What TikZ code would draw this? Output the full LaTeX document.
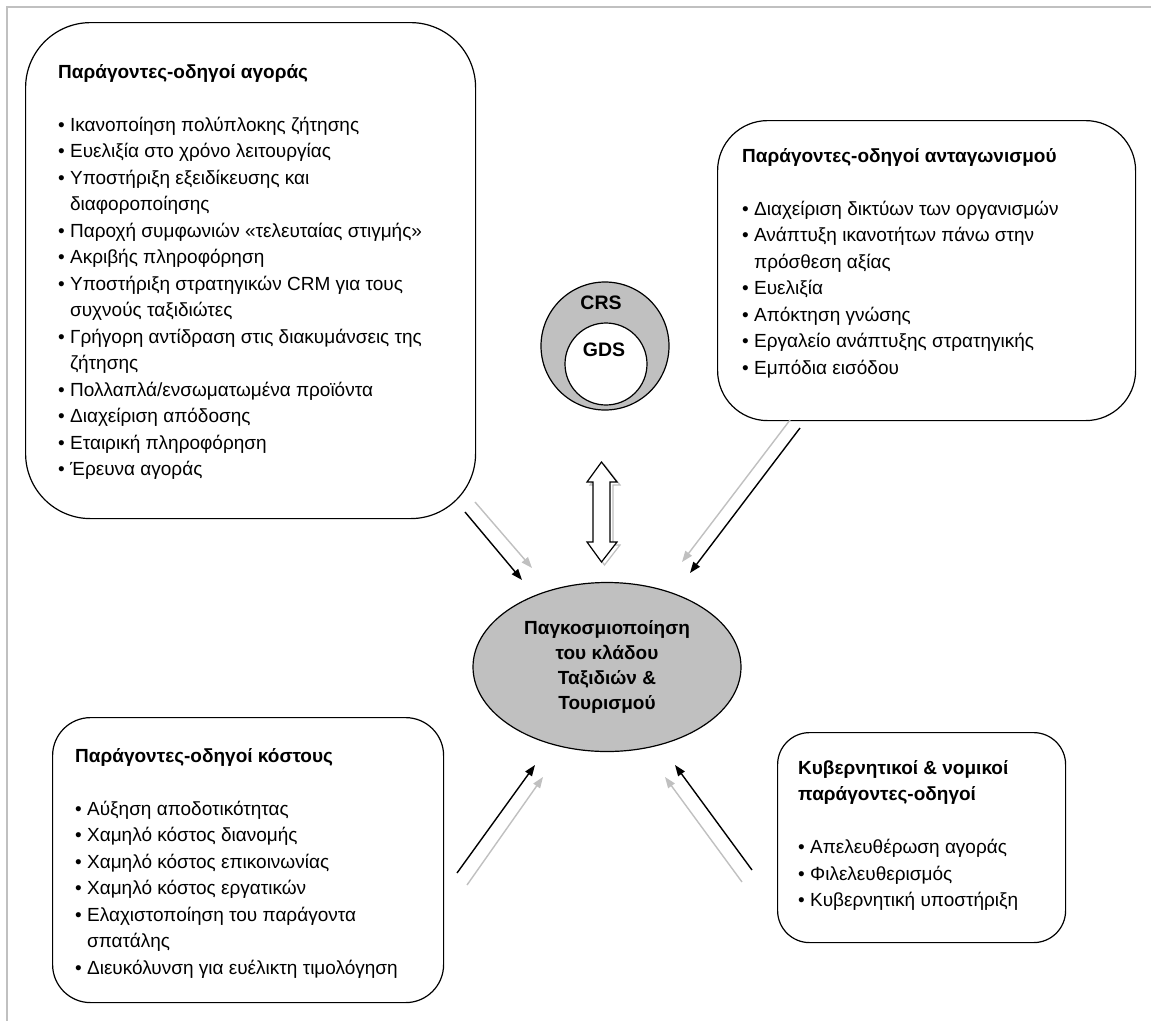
\documentclass[tikz,border=0pt]{standalone}
\usepackage{fontspec}
\setmainfont{Liberation Sans}
\usetikzlibrary{arrows.meta,shapes.geometric}
\definecolor{silver}{HTML}{C0C0C0}
\newcommand{\cont}{\phantom{•}\ }
\begin{document}
\begin{tikzpicture}[x=1pt,y=-1pt,
  card/.style={draw=black, line width=1.2pt, fill=white, inner sep=0pt, anchor=north west},
  listtext/.style={anchor=north west, align=left, inner sep=0pt,
    font=\fontsize{19}{26.5}\selectfont},
  flow/.style={line width=1.4pt, -{Triangle[length=11pt,width=8pt]}},
  flowblack/.style={flow, draw=black},
  flowgray/.style={flow, draw=silver},
]
\useasboundingbox (0,0) rectangle (1151,1021);
\fill[white] (0,0) rectangle (1151,1021);

% page frame (top and left edges)
\draw[silver, line width=2pt] (1151,7) -- (7,7) -- (7,1021);

% the four driver cards
\node[card, rounded corners=65pt, minimum width=450pt, minimum height=496pt] (market) at (25,22) {};
\node[card, rounded corners=50pt, minimum width=418pt, minimum height=300pt] (rivalry) at (717,120) {};
\node[card, rounded corners=38pt, minimum width=391pt, minimum height=285pt] (cost) at (52,717) {};
\node[card, rounded corners=32pt, minimum width=288pt, minimum height=210pt] (law) at (777,732) {};

\node[listtext] (marketText) at (58,62) {\rule{0pt}{16pt}\textbf{Παράγοντες-οδηγοί αγοράς}\\[26.5pt]
• Ικανοποίηση πολύπλοκης ζήτησης\\
• Ευελιξία στο χρόνο λειτουργίας\\
• Υποστήριξη εξειδίκευσης και\\
\cont διαφοροποίησης\\
• Παροχή συμφωνιών «τελευταίας στιγμής»\\
• Ακριβής πληροφόρηση\\
• Υποστήριξη στρατηγικών CRM για τους\\
\cont συχνούς ταξιδιώτες\\
• Γρήγορη αντίδραση στις διακυμάνσεις της\\
\cont ζήτησης\\
• Πολλαπλά/ενσωματωμένα προϊόντα\\
• Διαχείριση απόδοσης\\
• Εταιρική πληροφόρηση\\
• Έρευνα αγοράς};

\node[listtext] (rivalryText) at (742,146) {\rule{0pt}{16pt}\textbf{Παράγοντες-οδηγοί ανταγωνισμού}\\[26.5pt]
• Διαχείριση δικτύων των οργανισμών\\
• Ανάπτυξη ικανοτήτων πάνω στην\\
\cont πρόσθεση αξίας\\
• Ευελιξία\\
• Απόκτηση γνώσης\\
• Εργαλείο ανάπτυξης στρατηγικής\\
• Εμπόδια εισόδου};

\node[listtext] (costText) at (75,746) {\rule{0pt}{16pt}\textbf{Παράγοντες-οδηγοί κόστους}\\[26.5pt]
• Αύξηση αποδοτικότητας\\
• Χαμηλό κόστος διανομής\\
• Χαμηλό κόστος επικοινωνίας\\
• Χαμηλό κόστος εργατικών\\
• Ελαχιστοποίηση του παράγοντα\\
\cont σπατάλης\\
• Διευκόλυνση για ευέλικτη τιμολόγηση};

\node[listtext] (lawText) at (798,758) {\rule{0pt}{16pt}\textbf{Κυβερνητικοί \& νομικοί}\\
\textbf{παράγοντες-οδηγοί}\\[26.5pt]
• Απελευθέρωση αγοράς\\
• Φιλελευθερισμός\\
• Κυβερνητική υποστήριξη};

% reservation systems: CRS ring around the GDS core
\node[circle, draw=black, line width=1.2pt, fill=silver, minimum size=128pt, inner sep=0pt] (crsRing) at (605,346) {};
\node[circle, draw=black, line width=1.2pt, fill=white, minimum size=82pt, inner sep=0pt] (gdsDisc) at (606,364) {};
\node[font=\fontsize{19.5}{24}\selectfont\bfseries, inner sep=0pt] (crsLabel) at (601,303) {CRS};
\node[font=\fontsize{19.5}{24}\selectfont\bfseries, inner sep=0pt] (gdsLabel) at (604,350) {GDS};

% central outcome
\node[ellipse, draw=black, line width=1.2pt, fill=silver, minimum width=268pt, minimum height=169pt,
  inner sep=0pt, align=center, font=\fontsize{19}{25}\selectfont\bfseries] (globe) at (607,667)
  {Παγκοσμιοποίηση\\του κλάδου\\Ταξιδιών \&\\Τουρισμού};

% two-way block arrow between the systems and the outcome (with drop shadow)
\draw[silver, line width=1.2pt, shift={(3pt,-3pt)}]
  (601.5,462) -- (617,482) -- (610,482) -- (610,542) -- (617,542) -- (601.5,562)
  -- (587,542) -- (593,542) -- (593,482) -- (587,482) -- cycle;
\draw[black, line width=1.2pt, fill=white]
  (601.5,462) -- (617,482) -- (610,482) -- (610,542) -- (617,542) -- (601.5,562)
  -- (587,542) -- (593,542) -- (593,482) -- (587,482) -- cycle;

% influence arrows: black and grey pairs
\coordinate (tlB0) at (465,512); \coordinate (tlB1) at (522,580);
\coordinate (tlG0) at (475,502); \coordinate (tlG1) at (532,568);
\coordinate (trB0) at (800,428); \coordinate (trB1) at (690,573);
\coordinate (trG0) at (790,420); \coordinate (trG1) at (682,562);
\coordinate (blB0) at (457,873); \coordinate (blB1) at (535,765);
\coordinate (blG0) at (467,885); \coordinate (blG1) at (543,777);
\coordinate (brB0) at (752,870); \coordinate (brB1) at (675,765);
\coordinate (brG0) at (742,882); \coordinate (brG1) at (665,777);

\draw[flowgray] (tlG0) -- (tlG1);
\draw[flowblack] (tlB0) -- (tlB1);
\draw[flowgray] (trG0) -- (trG1);
\draw[flowblack] (trB0) -- (trB1);
\draw[flowgray] (blG0) -- (blG1);
\draw[flowblack] (blB0) -- (blB1);
\draw[flowgray] (brG0) -- (brG1);
\draw[flowblack] (brB0) -- (brB1);
\end{tikzpicture}
\end{document}
